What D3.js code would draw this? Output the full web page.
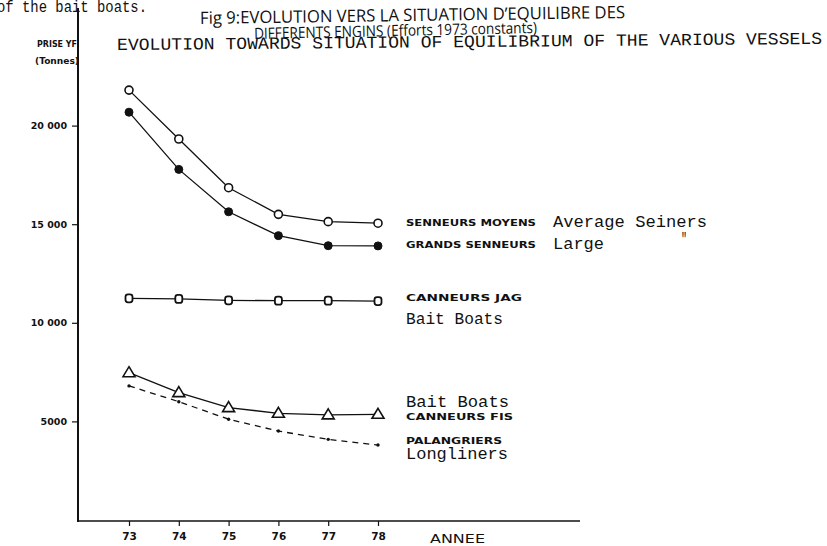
<!DOCTYPE html>
<html><head><meta charset="utf-8">
<script src="https://cdn.jsdelivr.net/npm/d3@7"></script>
<style>body{margin:0;background:#fff}svg{display:block}</style>
</head><body>
<svg id="c" width="827" height="546"></svg>
<script>
const years = [73, 74, 75, 76, 77, 78];
const yTickValues = [5000, 10000, 15000, 20000];
const yTickLabels = ["5000", "10 000", "15 000", "20 000"];
const xTickLabels = ["73", "74", "75", "76", "77", "78"];
const averageSeiners = [21800, 19320, 16850, 15500, 15130, 15050];
const largeSeiners = [20680, 17780, 15630, 14420, 13910, 13900];
const baitBoatsJAG = [11240, 11210, 11140, 11120, 11120, 11100];
const baitBoatsFIS = [7470, 6460, 5700, 5410, 5330, 5360];
const longliners = [6800, 6000, 5110, 4510, 4090, 3800];

const svg = d3.select("#c");
const x = d3.scaleLinear().domain([73, 78]).range([129, 378]);
const y = d3.scaleLinear().domain([0, 20000]).range([520, 125.6]);
const ink = "#111";
const mono = "'Liberation Mono', 'DejaVu Sans Mono', monospace";
const sans = "'DejaVu Sans', sans-serif";
const title = "'Open Sans', 'DejaVu Sans', sans-serif";
const fit = (sel, w) => sel.attr("textLength", w).attr("lengthAdjust", "spacingAndGlyphs");

// header texts
fit(svg.append("text").attr("x", -3).attr("y", 12).attr("font-family", mono).attr("font-size", 16)
  .attr("fill", ink).text("of the bait boats."), 150);
fit(svg.append("text").attr("x", 200).attr("y", 21).attr("font-family", title).attr("font-size", 17)
  .attr("fill", ink).attr("transform", "rotate(-0.8 410 15)")
  .text("Fig 9:EVOLUTION VERS LA SITUATION D\u2019EQUILIBRE DES"), 425);
fit(svg.append("text").attr("x", 254).attr("y", 36).attr("font-family", title).attr("font-size", 15.5)
  .attr("fill", ink).attr("transform", "rotate(-1.2 395 31)")
  .text("DIFFERENTS ENGINS (Efforts 1973 constants)"), 283);
fit(svg.append("text").attr("x", 117).attr("y", 47).attr("font-family", mono).attr("font-size", 17)
  .attr("fill", ink).attr("transform", "rotate(-0.5 470 42)")
  .text("EVOLUTION TOWARDS SITUATION OF EQUILIBRIUM OF THE VARIOUS VESSELS"), 705);

fit(svg.append("text").attr("x", 37).attr("y", 47).attr("font-family", sans).attr("font-weight", "bold").attr("font-size", 8.5)
  .attr("fill", ink).text("PRISE YF"), 40);
fit(svg.append("text").attr("x", 35).attr("y", 64).attr("font-family", sans).attr("font-weight", "bold").attr("font-size", 8.5)
  .attr("fill", ink).text("(Tonnes)"), 44);

// axes
const yAxis = d3.axisLeft(y).tickValues(yTickValues).tickSize(6).tickPadding(5)
  .tickFormat((d, i) => yTickLabels[i]);
const gy = svg.append("g").attr("transform", "translate(78,0)").call(yAxis);
gy.select(".domain").remove();
gy.selectAll("line").attr("stroke", ink).attr("stroke-width", 1.2);
gy.selectAll("text").attr("font-family", sans).attr("font-weight", "bold").attr("font-size", 9.5).attr("fill", ink);

const xAxis = d3.axisBottom(x).tickValues(years).tickSize(5).tickPadding(7)
  .tickFormat((d, i) => xTickLabels[i]);
const gx = svg.append("g").attr("transform", "translate(0,521)").call(xAxis);
gx.select(".domain").remove();
gx.selectAll("line").attr("stroke", ink).attr("stroke-width", 1.2);
gx.selectAll("text").attr("font-family", sans).attr("font-weight", "bold").attr("font-size", 10.5).attr("fill", ink);

svg.append("line").attr("x1", 78).attr("x2", 78).attr("y1", 8).attr("y2", 522).attr("stroke", ink).attr("stroke-width", 2);
svg.append("line").attr("x1", 77).attr("x2", 580).attr("y1", 521).attr("y2", 521).attr("stroke", ink).attr("stroke-width", 1.6);
fit(svg.append("text").attr("x", 430).attr("y", 543).attr("font-family", sans).attr("font-size", 12)
  .attr("fill", ink).text("ANNEE"), 55);

// series
const line = d3.line().x((d, i) => x(years[i])).y(d => y(d));
function drawLine(vals, dash) {
  svg.append("path").datum(vals).attr("d", line).attr("fill", "none").attr("stroke", ink)
    .attr("stroke-width", 1.3).attr("stroke-dasharray", dash || null);
}
drawLine(averageSeiners);
drawLine(largeSeiners);
drawLine(baitBoatsJAG);
drawLine(baitBoatsFIS);
drawLine(longliners, "6,5");

svg.append("g").selectAll("circle").data(averageSeiners).join("circle")
  .attr("cx", (d, i) => x(years[i])).attr("cy", d => y(d)).attr("r", 4)
  .attr("fill", "#fff").attr("stroke", ink).attr("stroke-width", 1.6);
svg.append("g").selectAll("circle").data(largeSeiners).join("circle")
  .attr("cx", (d, i) => x(years[i])).attr("cy", d => y(d)).attr("r", 4)
  .attr("fill", ink).attr("stroke", ink).attr("stroke-width", 1);
svg.append("g").selectAll("rect").data(baitBoatsJAG).join("rect")
  .attr("x", (d, i) => x(years[i]) - 3.5).attr("y", d => y(d) - 4).attr("width", 7).attr("height", 8)
  .attr("rx", 2.5).attr("fill", "#fff").attr("stroke", ink).attr("stroke-width", 1.8);
svg.append("g").selectAll("path").data(baitBoatsFIS).join("path")
  .attr("transform", (d, i) => `translate(${x(years[i])},${y(d)})`)
  .attr("d", "M0,-6L6,4L-6,4Z").attr("fill", "#fff").attr("stroke", ink).attr("stroke-width", 1.6);
svg.append("g").selectAll("circle").data(longliners).join("circle")
  .attr("cx", (d, i) => x(years[i])).attr("cy", d => y(d)).attr("r", 1.7).attr("fill", ink);

// labels
const labFont = (sel, w) => fit(sel.attr("font-family", sans).attr("font-weight", "bold").attr("font-size", 9.5)
  .attr("fill", ink), w);
labFont(svg.append("text").attr("x", 406).attr("y", 226).text("SENNEURS MOYENS"), 130);
labFont(svg.append("text").attr("x", 406).attr("y", 248).text("GRANDS SENNEURS"), 130);
labFont(svg.append("text").attr("x", 406).attr("y", 301).text("CANNEURS JAG"), 116);
labFont(svg.append("text").attr("x", 406).attr("y", 420).text("CANNEURS FIS"), 107);
labFont(svg.append("text").attr("x", 406).attr("y", 444).text("PALANGRIERS"), 96);

const tw = (sel, w) => fit(sel.attr("font-family", mono).attr("font-size", 16).attr("fill", ink), w);
tw(svg.append("text").attr("x", 553).attr("y", 227).text("Average Seiners"), 154);
tw(svg.append("text").attr("x", 553).attr("y", 249).text("Large"), 51);
tw(svg.append("text").attr("x", 681).attr("y", 244).text("\""), 6);
tw(svg.append("text").attr("x", 406).attr("y", 324).text("Bait Boats"), 97);
tw(svg.append("text").attr("x", 406).attr("y", 407).text("Bait Boats"), 103);
tw(svg.append("text").attr("x", 406).attr("y", 459).text("Longliners"), 102);
</script>
</body></html>
